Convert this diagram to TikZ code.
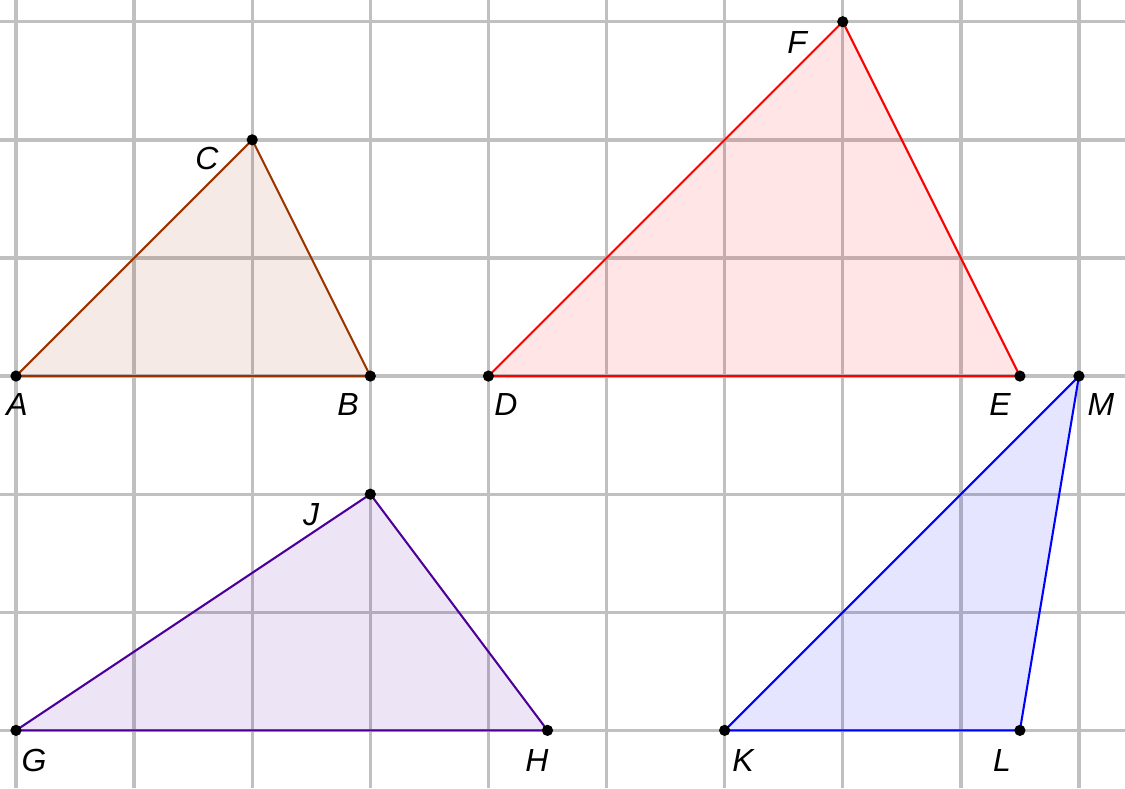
\documentclass[tikz,border=0pt]{standalone}
\usepackage{fontspec}
\setmainfont{Liberation Sans}
\begin{document}
\begin{tikzpicture}[x=1cm,y=1cm,
  gridline/.style={draw={rgb,255:red,192;green,192;blue,192},line width=0.8pt},
  tri/.style={line width=0.5pt,line join=round},
  pt/.style={circle,fill=black,inner sep=0pt,minimum size=0.095cm},
  lab/.style={font=\fontsize{7.7}{9}\selectfont\itshape,inner sep=0pt}]
\useasboundingbox (-0.1355,-3.489) rectangle (9.390,3.184);
% grid
\foreach \x in {0,...,9} \draw[gridline] (\x,-3.489) -- (\x,3.184);
\foreach \y in {-3,...,3} \draw[gridline] (-0.1355,\y) -- (9.390,\y);
% colours
\definecolor{cABC}{RGB}{153,51,0}
\definecolor{cDEF}{RGB}{255,0,0}
\definecolor{cGHJ}{RGB}{76,0,153}
\definecolor{cKLM}{RGB}{0,0,255}
% vertices
\coordinate (A) at (0,0); \coordinate (B) at (3,0); \coordinate (C) at (2,2);
\coordinate (D) at (4,0); \coordinate (E) at (8.5,0); \coordinate (F) at (7,3);
\coordinate (G) at (0,-3); \coordinate (H) at (4.5,-3); \coordinate (J) at (3,-1);
\coordinate (K) at (6,-3); \coordinate (L) at (8.5,-3); \coordinate (M) at (9,0);
% triangles
\fill[cABC,fill opacity=0.1] (A) -- (B) -- (C) -- cycle;
\draw[tri,cABC] (A) -- (B) -- (C) -- cycle;
\fill[cDEF,fill opacity=0.1] (D) -- (E) -- (F) -- cycle;
\draw[tri,cDEF] (D) -- (E) -- (F) -- cycle;
\fill[cGHJ,fill opacity=0.1] (G) -- (H) -- (J) -- cycle;
\draw[tri,cGHJ] (G) -- (H) -- (J) -- cycle;
\fill[cKLM,fill opacity=0.1] (K) -- (L) -- (M) -- cycle;
\draw[tri,cKLM] (K) -- (L) -- (M) -- cycle;
% points
\foreach \p in {A,B,C,D,E,F,G,H,J,K,L,M} \node[pt] (p\p) at (\p) {};
% labels
\node[lab] (lA) at (0.008,-0.245) {A};
\node[lab] (lB) at (2.811,-0.245) {B};
\node[lab] (lC) at (1.617,1.846) {C};
\node[lab] (lD) at (4.149,-0.245) {D};
\node[lab] (lE) at (8.332,-0.245) {E};
\node[lab] (lF) at (6.613,2.820) {F};
\node[lab] (lM) at (9.187,-0.245) {M};
\node[lab] (lJ) at (2.498,-1.177) {J};
\node[lab] (lG) at (0.152,-3.251) {G};
\node[lab] (lH) at (4.411,-3.251) {H};
\node[lab] (lK) at (6.156,-3.251) {K};
\node[lab] (lL) at (8.349,-3.251) {L};
\end{tikzpicture}
\end{document}
